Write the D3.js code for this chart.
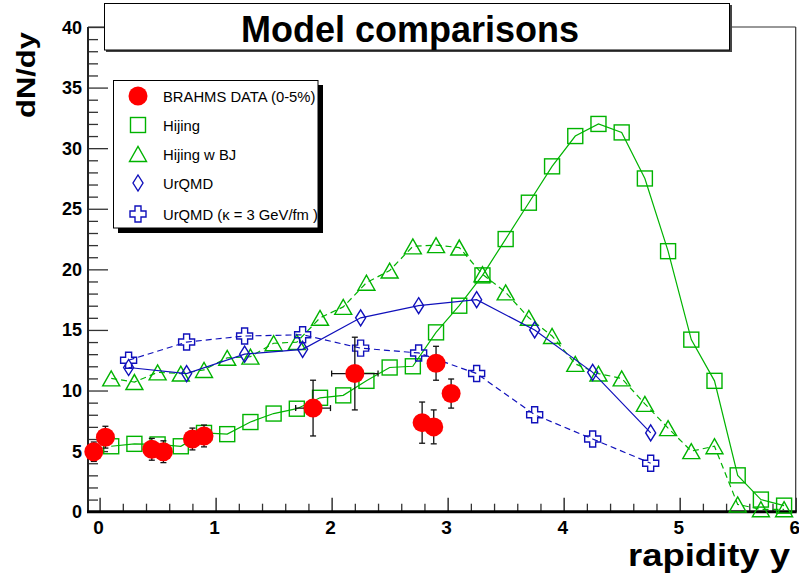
<!DOCTYPE html>
<html>
<head>
<meta charset="utf-8">
<script src="https://cdn.jsdelivr.net/npm/d3@7"></script>
<style>
  html, body { margin: 0; padding: 0; background: #fff; }
  svg { display: block; }
  text { font-family: "Liberation Sans", Arial, Helvetica, sans-serif; }
</style>
</head>
<body>
<svg id="chart" width="799" height="578"></svg>
<script>
// ---- data -------------------------------------------------------------
// BRAHMS measured dN/dy (0-5% central) with errors
const dataY    = [-0.05, 0.05, 0.45, 0.55, 0.80, 0.90, 1.84, 2.20, 2.78, 2.88, 2.90, 3.03];
const dataVal  = [4.95, 6.15, 5.15, 4.95, 6.0, 6.25, 8.55, 11.4, 7.35, 7.0, 12.25, 9.75];
const dataErr  = [0.8, 0.9, 0.9, 0.9, 0.9, 0.9, 2.3, 3.0, 1.7, 1.4, 1.4, 1.2];
const dataXErr = [0, 0, 0, 0, 0, 0, 0.15, 0.2, 0, 0, 0, 0];

// Hijing
const hijingY   = [0.1, 0.3, 0.5, 0.7, 0.9, 1.1, 1.3, 1.5, 1.7, 1.9, 2.1, 2.3, 2.5, 2.7, 2.9,
                   3.1, 3.3, 3.5, 3.7, 3.9, 4.1, 4.3, 4.5, 4.7, 4.9, 5.1, 5.3, 5.5, 5.7, 5.9];
const hijingVal = [5.4, 5.6, 5.55, 5.4, 6.5, 6.4, 7.4, 8.1, 8.5, 9.4, 9.6, 10.8, 11.9, 12.0, 14.8,
                   17.0, 19.5, 22.5, 25.5, 28.5, 31.0, 32.0, 31.3, 27.5, 21.5, 14.2, 10.8, 3.0, 1.0, 0.5];

// Hijing with baryon junctions
const hijingBJY   = hijingY;
const hijingBJVal = [11.0, 10.7, 11.5, 11.4, 11.7, 12.7, 12.8, 13.9, 14.0, 16.0, 16.9, 18.9, 19.9, 21.9, 22.0,
                     21.8, 19.6, 18.1, 16.0, 14.5, 12.2, 11.4, 11.0, 8.9, 6.9, 5.0, 5.4, 0.6, 0.2, 0.2];

// UrQMD
const urqmdY   = [0.25, 0.75, 1.25, 1.75, 2.25, 2.75, 3.25, 3.75, 4.25, 4.75];
const urqmdVal = [11.9, 11.4, 13.0, 13.4, 16.0, 17.0, 17.5, 15.0, 11.5, 6.5];

// UrQMD with string tension kappa = 3 GeV/fm
const urqmdKY   = urqmdY;
const urqmdKVal = [12.5, 14.0, 14.5, 14.6, 13.5, 13.1, 11.4, 8.0, 6.0, 4.0];

const yTicks = [0, 5, 10, 15, 20, 25, 30, 35, 40];
const xTicks = [0, 1, 2, 3, 4, 5, 6];

const legendLabels = ["BRAHMS DATA (0-5%)", "Hijing", "Hijing w BJ", "UrQMD", "UrQMD (\u03ba = 3 GeV/fm )"];

// ---- layout -----------------------------------------------------------
const GREEN = "#00b300";
const BLUE  = "#1010bb";
const RED   = "#ff0000";

const svg = d3.select("#chart");
const L = 88, R = 795.7, T = 27, B = 511.7;

const x = d3.scaleLinear().domain([-0.1, 6]).range([L, R]);
const y = d3.scaleLinear().domain([0, 40]).range([B, T]);

// frame
svg.append("line").attr("x1", L).attr("x2", R).attr("y1", T).attr("y2", T)
  .attr("stroke", "#333").attr("stroke-width", 1.2);
svg.append("line").attr("x1", R).attr("x2", R).attr("y1", T).attr("y2", B)
  .attr("stroke", "#333").attr("stroke-width", 1.2);

// y axis: ticks drawn inward
const yAxis = d3.axisRight(y).tickValues(yTicks).tickSize(20).tickFormat("");
const gy = svg.append("g").attr("transform", `translate(${L},0)`).call(yAxis);
gy.select(".domain").remove();
gy.selectAll(".tick line").attr("stroke", "#333").attr("stroke-width", 1.3);
const yMinor = d3.axisRight(y).tickValues(d3.range(0, 41, 1).filter(v => v % 5 !== 0)).tickSize(10).tickFormat("");
const gym = svg.append("g").attr("transform", `translate(${L},0)`).call(yMinor);
gym.select(".domain").remove();
gym.selectAll(".tick line").attr("stroke", "#333").attr("stroke-width", 1.3);
svg.append("g").selectAll("text").data(yTicks).join("text")
  .attr("x", 82).attr("y", d => y(d) + 6.5)
  .attr("text-anchor", "end").attr("font-size", 18).attr("font-weight", "bold")
  .text(d => d);

// x axis: ticks drawn upward
const xAxis = d3.axisTop(x).tickValues(xTicks).tickSize(14).tickFormat("");
const gx = svg.append("g").attr("transform", `translate(0,${B})`).call(xAxis);
gx.select(".domain").remove();
gx.selectAll(".tick line").attr("stroke", "#333").attr("stroke-width", 1.5);
const xMinorVals = d3.range(0, 30).map(i => +(i * 0.2).toFixed(1)).filter(v => Math.abs(v - Math.round(v)) > 1e-6);
const xMinor = d3.axisTop(x).tickValues(xMinorVals).tickSize(8).tickFormat("");
const gxm = svg.append("g").attr("transform", `translate(0,${B})`).call(xMinor);
gxm.select(".domain").remove();
gxm.selectAll(".tick line").attr("stroke", "#333").attr("stroke-width", 1.3);
svg.append("g").selectAll("text").data(xTicks).join("text")
  .attr("x", d => x(d) - 1).attr("y", 534)
  .attr("text-anchor", "middle").attr("font-size", 19).attr("font-weight", "bold")
  .text(d => d);

// axis lines
svg.append("line").attr("x1", L).attr("x2", L).attr("y1", T).attr("y2", B + 1)
  .attr("stroke", "#222").attr("stroke-width", 2);
svg.append("line").attr("x1", L - 1).attr("x2", R + 1).attr("y1", B).attr("y2", B)
  .attr("stroke", "#000").attr("stroke-width", 3);

// axis titles
svg.append("text").attr("transform", "translate(35,32) rotate(-90)")
  .attr("text-anchor", "end").attr("font-size", 25).attr("font-weight", "bold")
  .attr("textLength", 86).attr("lengthAdjust", "spacingAndGlyphs")
  .text("dN/dy");
svg.append("text").attr("x", 790).attr("y", 566)
  .attr("text-anchor", "end").attr("font-size", 31).attr("font-weight", "bold")
  .attr("textLength", 162).attr("lengthAdjust", "spacingAndGlyphs")
  .text("rapidity y");

// ---- marker shapes ----------------------------------------------------
function square(g, s) {
  return g.append("rect").attr("x", -s / 2).attr("y", -s / 2).attr("width", s).attr("height", s);
}
const triPath = (w, h) => `M${-w / 2},${h / 2}L${w / 2},${h / 2}L0,${-h / 2}Z`;
const diamondPath = (w, h) => `M0,${-h / 2}L${w / 2},0L0,${h / 2}L${-w / 2},0Z`;
const crossPath = (s, a) => {
  const o = s / 2, i = a / 2;
  return `M${-i},${-o}H${i}V${-i}H${o}V${i}H${i}V${o}H${-i}V${i}H${-o}V${-i}H${-i}Z`;
};

function drawSeries(xs, vs, color, dashed, marker) {
  const pts = xs.map((d, i) => [x(d), y(vs[i])]);
  svg.append("path").attr("d", d3.line()(pts))
    .attr("fill", "none").attr("stroke", color).attr("stroke-width", 1.2)
    .attr("stroke-dasharray", dashed ? "6,4" : null);
  const g = svg.append("g");
  pts.forEach(p => {
    const m = g.append("g").attr("transform", `translate(${p[0]},${p[1]})`);
    marker(m).attr("fill", "none").attr("stroke", color).attr("stroke-width", 1.4);
  });
}

const mkSquare = m => square(m, 15);
const mkTri = m => m.append("path").attr("d", triPath(17, 15));
const mkDiamond = m => m.append("path").attr("d", diamondPath(10, 16));
const mkCross = m => m.append("path").attr("d", crossPath(16, 6));

drawSeries(hijingY, hijingVal, GREEN, false, mkSquare);
drawSeries(hijingBJY, hijingBJVal, GREEN, true, mkTri);
drawSeries(urqmdY, urqmdVal, BLUE, false, mkDiamond);
drawSeries(urqmdKY, urqmdKVal, BLUE, true, mkCross);

// ---- BRAHMS data with error bars ----------------------------------------
const eb = svg.append("g").attr("stroke", "#111").attr("stroke-width", 1.3);
dataY.forEach((d, i) => {
  const cx = x(d), cy = y(dataVal[i]);
  const y1 = y(dataVal[i] + dataErr[i]), y2 = y(dataVal[i] - dataErr[i]);
  eb.append("line").attr("x1", cx).attr("x2", cx).attr("y1", y1).attr("y2", y2);
  eb.append("line").attr("x1", cx - 3).attr("x2", cx + 3).attr("y1", y1).attr("y2", y1);
  eb.append("line").attr("x1", cx - 3).attr("x2", cx + 3).attr("y1", y2).attr("y2", y2);
  if (dataXErr[i] > 0) {
    const x1 = x(d - dataXErr[i]), x2 = x(d + dataXErr[i]);
    eb.append("line").attr("x1", x1).attr("x2", x2).attr("y1", cy).attr("y2", cy);
    eb.append("line").attr("x1", x1).attr("x2", x1).attr("y1", cy - 3).attr("y2", cy + 3);
    eb.append("line").attr("x1", x2).attr("x2", x2).attr("y1", cy - 3).attr("y2", cy + 3);
  }
});
svg.append("g").selectAll("circle").data(dataY).join("circle")
  .attr("cx", d => x(d)).attr("cy", (d, i) => y(dataVal[i])).attr("r", 9.5)
  .attr("fill", RED);

// ---- title box ----------------------------------------------------------
svg.append("rect").attr("x", 106).attr("y", 5).attr("width", 626).attr("height", 47).attr("fill", "#444");
svg.append("rect").attr("x", 104.5).attr("y", 3.5).attr("width", 625).attr("height", 46.5)
  .attr("fill", "#fff").attr("stroke", "#000").attr("stroke-width", 1);
svg.append("text").attr("x", 410).attr("y", 42).attr("text-anchor", "middle")
  .attr("font-size", 36).attr("font-weight", "bold").text("Model comparisons");

// ---- legend -------------------------------------------------------------
svg.append("rect").attr("x", 118).attr("y", 85).attr("width", 205).attr("height", 148).attr("fill", "#000");
svg.append("rect").attr("x", 113.5).attr("y", 80.5).attr("width", 204.5).attr("height", 147.5)
  .attr("fill", "#fff").attr("stroke", "#000").attr("stroke-width", 1);
const legRows = [96, 125, 154, 183, 214];
const legMarkers = [
  m => m.append("circle").attr("r", 9.5).attr("fill", RED),
  m => mkSquare(m).attr("fill", "none").attr("stroke", GREEN).attr("stroke-width", 1.4),
  m => mkTri(m).attr("fill", "none").attr("stroke", GREEN).attr("stroke-width", 1.4),
  m => mkDiamond(m).attr("fill", "none").attr("stroke", BLUE).attr("stroke-width", 1.4),
  m => mkCross(m).attr("fill", "none").attr("stroke", BLUE).attr("stroke-width", 1.4)
];
legendLabels.forEach((lab, i) => {
  const m = svg.append("g").attr("transform", `translate(138,${legRows[i]})`);
  legMarkers[i](m);
  svg.append("text").attr("x", 163).attr("y", legRows[i] + 5.5)
    .attr("font-size", 14.8).attr("fill", "#000").text(lab);
});
</script>
</body>
</html>
